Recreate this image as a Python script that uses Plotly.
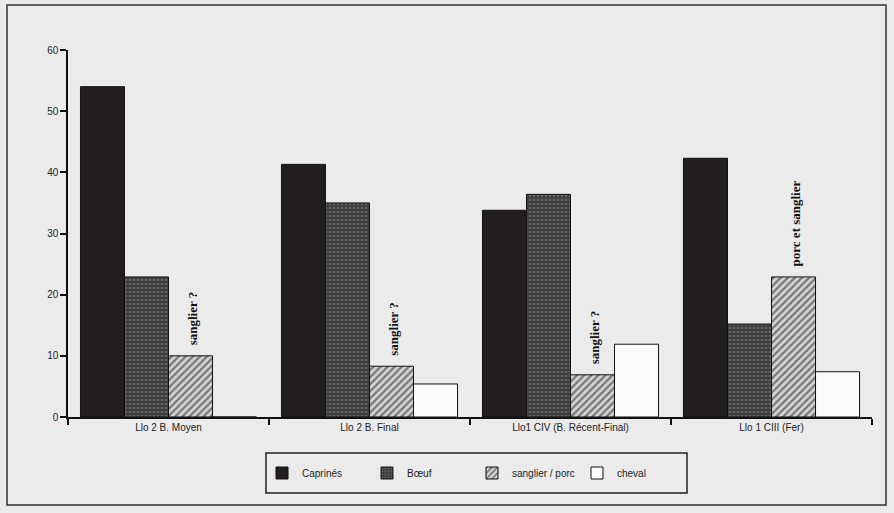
import plotly.graph_objects as go

# Sites / périodes
sites = ["Llo 2 B. Moyen", "Llo 2 B. Final", "Llo1 CIV (B. Récent-Final)", "Llo 1 CIII (Fer)"]

# Pourcentages par espèce
caprines = [54, 41.3, 33.8, 42.3]
boeuf = [22.9, 35.0, 36.4, 15.2]
sanglier_porc = [10.0, 8.3, 6.9, 22.9]
cheval = [0, 5.4, 11.9, 7.4]

# Notes écrites au-dessus des barres sanglier / porc
notes = ["sanglier ?", "sanglier ?", "sanglier ?", "porc et sanglier"]

y_ticks = [0, 10, 20, 30, 40, 50, 60]

BG = "#ebebeb"
LINE = dict(color="#111111", width=1)

fig = go.Figure()
fig.add_trace(go.Bar(
    name="Caprinés", x=sites, y=caprines,
    marker=dict(color="#221e1f", line=LINE),
))
fig.add_trace(go.Bar(
    name="Bœuf", x=sites, y=boeuf,
    marker=dict(color="#444444", line=LINE,
                pattern=dict(shape=".", fgcolor="#8c8c8c", bgcolor="#3e3e3e",
                             size=4, solidity=0.35, fillmode="overlay")),
))
fig.add_trace(go.Bar(
    name="sanglier / porc", x=sites, y=sanglier_porc,
    marker=dict(color="#d4d4d4", line=LINE,
                pattern=dict(shape="/", fgcolor="#1a1a1a", bgcolor="#d4d4d4",
                             size=5, solidity=0.45, fillmode="overlay")),
))
fig.add_trace(go.Bar(
    name="cheval", x=sites, y=cheval,
    marker=dict(color="#fbfbfb", line=LINE),
))

# Étiquettes verticales au-dessus des barres sanglier / porc
for site, val, note in zip(sites, sanglier_porc, notes):
    fig.add_annotation(
        x=site, y=val, xref="x", yref="y",
        text=f"<b>{note}</b>", textangle=-90, showarrow=False,
        xanchor="center", yanchor="bottom", xshift=24, yshift=8,
        font=dict(family="Liberation Serif", size=13, color="#111111"),
    )

# Cadre extérieur et cadre de la légende
fig.add_shape(type="rect", xref="paper", yref="paper",
              x0=(7 - 68) / 804, x1=(886 - 68) / 804,
              y0=(417 - 505) / 367, y1=(417 - 5) / 367,
              line=dict(color="#333333", width=1.5), layer="below")
fig.add_shape(type="rect", xref="paper", yref="paper",
              x0=(266 - 68) / 804, x1=(687 - 68) / 804,
              y0=(417 - 493) / 367, y1=(417 - 453) / 367,
              line=dict(color="#222222", width=1.5))

fig.update_layout(
    width=894, height=513,
    margin=dict(l=68, r=22, t=50, b=96),
    paper_bgcolor=BG, plot_bgcolor=BG,
    barmode="group", bargap=0.124, bargroupgap=0,
    font=dict(family="Liberation Sans", size=10, color="#222222"),
    showlegend=True,
    legend=dict(
        orientation="h", x=(262 - 68) / 804, y=(417 - 473) / 367,
        xanchor="left", yanchor="middle",
        bgcolor="rgba(0,0,0,0)", borderwidth=0,
        itemwidth=30, entrywidth=60, entrywidthmode="pixels",
        font=dict(family="Liberation Sans", size=10, color="#222222"),
        traceorder="normal",
    ),
    xaxis=dict(
        type="category", showline=True, linecolor="#111111", linewidth=1.5,
        ticks="outside", tickson="boundaries", ticklen=6, tickcolor="#111111",
        tickwidth=1.5, showgrid=False, zeroline=False,
        tickfont=dict(family="Liberation Sans", size=10, color="#222222"),
    ),
    yaxis=dict(
        range=[0, 60], tickvals=y_ticks, showline=True, linecolor="#111111",
        linewidth=1.5, ticks="outside", ticklen=6, tickcolor="#111111",
        tickwidth=1.5, showgrid=False, zeroline=False,
        tickfont=dict(family="Liberation Sans", size=10, color="#222222"),
    ),
)

fig.write_html("out.html")
